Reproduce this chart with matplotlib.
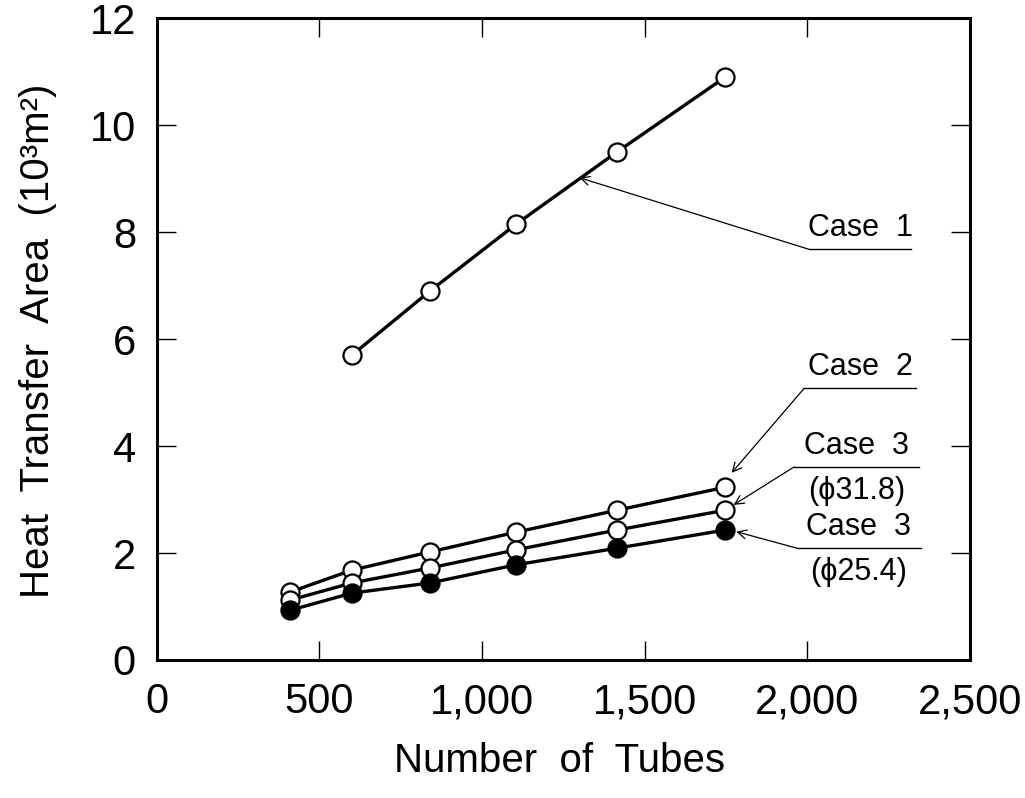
import matplotlib
matplotlib.use("Agg")
import matplotlib.pyplot as plt
from matplotlib import font_manager

# ---------------- data ----------------
tubes = [410, 600, 840, 1105, 1415, 1748]
case1 = [5.7, 6.9, 8.15, 9.5, 10.9]          # starts at second tube count
case2 = [1.27, 1.68, 2.02, 2.39, 2.80, 3.23]
case3_318 = [1.12, 1.44, 1.72, 2.06, 2.43, 2.80]
case3_254 = [0.93, 1.25, 1.44, 1.78, 2.09, 2.43]

x_ticks = [0, 500, 1000, 1500, 2000, 2500]
x_ticklabels = ["0", "500", "1,000", "1,500", "2,000", "2,500"]
y_ticks = [0, 2, 4, 6, 8, 10, 12]
y_ticklabels = ["0", "2", "4", "6", "8", "10", "12"]

# ---------------- style ----------------
names = {f.name for f in font_manager.fontManager.ttflist}
main_font = "Liberation Sans Narrow" if "Liberation Sans Narrow" in names else "Liberation Sans"
plt.rcParams["font.family"] = [main_font, "DejaVu Sans"]

fig = plt.figure(figsize=(10.25, 7.98), dpi=100)
ax = fig.add_axes([0.153, 0.173, 0.793, 0.804])

line_kw = dict(color="black", lw=2.4, marker="o", markersize=13,
               markeredgewidth=1.6, markeredgecolor="black", zorder=3)

ax.plot(tubes[1:], case1, markerfacecolor="white", **line_kw)
ax.plot(tubes, case2, markerfacecolor="white", **line_kw)
ax.plot(tubes, case3_318, markerfacecolor="white", **line_kw)
ax.plot(tubes, case3_254, markerfacecolor="black", **line_kw)

ax.set_xlim(0, 2500)
ax.set_ylim(0, 12)
ax.set_xticks(x_ticks)
ax.set_xticklabels(x_ticklabels)
ax.set_yticks(y_ticks)
ax.set_yticklabels(y_ticklabels)

ax.tick_params(direction="in", length=14, width=1.0, top=True, right=True,
               labelsize=30, color="black")
ax.tick_params(axis="x", pad=16)
ax.tick_params(axis="y", pad=15)
for s in ax.spines.values():
    s.set_linewidth(2.2)

ax.set_xlabel("Number  of  Tubes", fontsize=29)
ax.set_ylabel("Heat  Transfer  Area  (10³m²)", fontsize=29)
ax.xaxis.set_label_coords(0.496, -0.128)
ax.yaxis.set_label_coords(-0.123, 0.497)

# ---------------- annotations ----------------
fs = 22
arrow_kw = dict(arrowstyle="->", lw=0.9, color="black", shrinkA=0, shrinkB=0,
                mutation_scale=16)

def label(lines, x0, x1, y_line, tip):
    ax.plot([x0, x1], [y_line, y_line], color="black", lw=1.0, zorder=2)
    ax.annotate("", xy=tip, xytext=(x0, y_line), arrowprops=arrow_kw)
    xc = (x0 + x1) / 2
    ax.text(xc, y_line + 0.12, lines[0], ha="center", va="bottom", fontsize=fs)
    if len(lines) > 1:
        ax.text(xc, y_line - 0.17, lines[1], ha="center", va="top", fontsize=fs)

label(["Case  1"], 2006, 2320, 7.68, (1300, 9.02))
label(["Case  2"], 1991, 2335, 5.08, (1768, 3.50))
label(["Case  3", "(ϕ31.8)"], 1960, 2344, 3.61, (1774, 2.90))
label(["Case  3", "(ϕ25.4)"], 1969, 2350, 2.09, (1782, 2.40))

fig.savefig("out.png", dpi=100)
